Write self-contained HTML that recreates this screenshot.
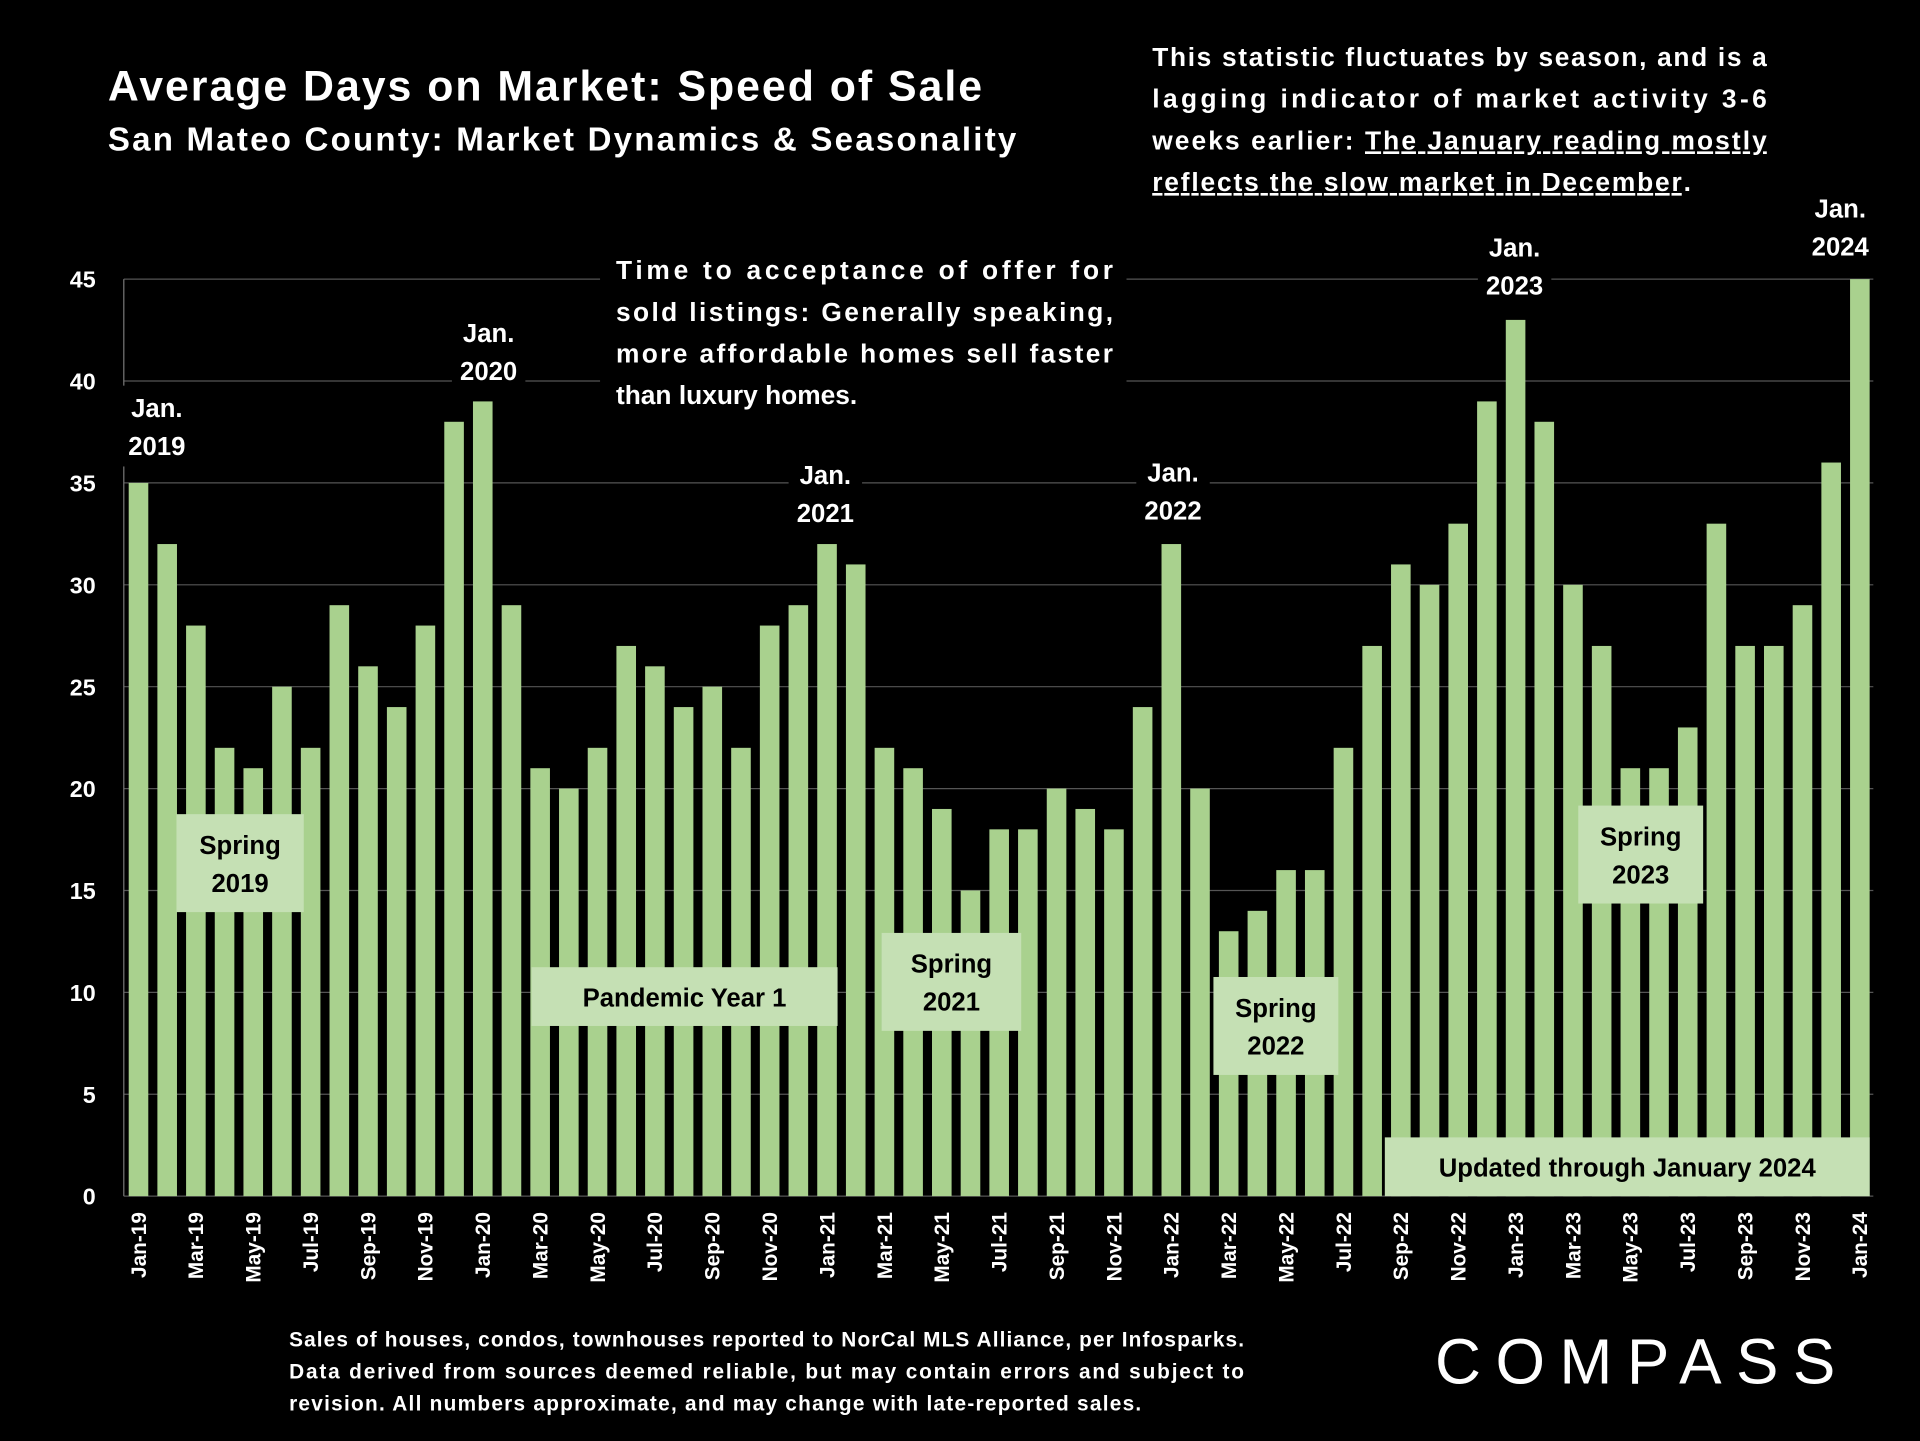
<!DOCTYPE html>
<html><head><meta charset="utf-8"><style>
html,body{margin:0;padding:0;background:#000;}
svg{display:block;font-family:"Liberation Sans",sans-serif;font-weight:bold;}
</style></head><body>
<svg id="chart" width="1920" height="1441" viewBox="0 0 1568 1177" xmlns="http://www.w3.org/2000/svg">
<rect width="1568" height="1177" fill="#000"/>
<g id="grid"></g>
<g id="bars"></g>
<g id="yticks"></g>
<g id="xticks"></g>
<g id="notes"></g>
<text x="88" y="82" fill="#fff" font-size="35" textLength="714" lengthAdjust="spacing">Average Days on Market:  Speed of Sale</text>
<text x="88" y="123" fill="#fff" font-size="27" textLength="742" lengthAdjust="spacing">San Mateo County: Market Dynamics &amp; Seasonality</text>
<g fill="#fff" font-size="21.5">
<text x="941" y="54" textLength="502" lengthAdjust="spacing">This statistic fluctuates by season, and is a</text>
<text x="941" y="88" textLength="502" lengthAdjust="spacing">lagging indicator of market activity 3-6</text>
<text x="941" y="122" textLength="502" lengthAdjust="spacing">weeks earlier: <tspan text-decoration="underline">The January reading mostly</tspan></text>
<text x="941" y="156" textLength="440" lengthAdjust="spacing"><tspan text-decoration="underline">reflects the slow market in December</tspan>.</text>
</g>
<g fill="#fff" font-size="17">
<text x="236" y="1100" textLength="780" lengthAdjust="spacing">Sales of houses, condos, townhouses reported to NorCal MLS Alliance, per Infosparks.</text>
<text x="236" y="1126" textLength="780" lengthAdjust="spacing">Data derived from sources deemed reliable, but may contain errors and subject to</text>
<text x="236" y="1152" textLength="696" lengthAdjust="spacing">revision. All numbers approximate, and may change with late-reported sales.</text>
</g>
<text x="1172" y="1130" fill="#fff" font-size="52" font-weight="normal" letter-spacing="7" textLength="334" lengthAdjust="spacing">COMPASS</text>
</svg>
<script>
const categories=[];
const yrs=['19','20','21','22','23','24'];
const mons=['Jan','Feb','Mar','Apr','May','Jun','Jul','Aug','Sep','Oct','Nov','Dec'];
for(let y=0;y<5;y++)for(const m of mons)categories.push(m+'-'+yrs[y]);
categories.push('Jan-24');
const values=[35,32,28,22,21,25,22,29,26,24,28,38,
39,29,21,20,22,27,26,24,25,22,28,29,
32,31,22,21,19,15,18,18,20,19,18,24,
32,20,13,14,16,16,22,27,31,30,33,39,
43,38,30,27,21,21,23,33,27,27,29,36,45];
const yTicks=[0,5,10,15,20,25,30,35,40,45];
const NS='http://www.w3.org/2000/svg';
const x0=113,x1=1519,yBase=977,yTop=228,yMax=45;
const xs=i=>x0+(x1-x0)*i/(categories.length-1);
const ys=v=>yBase-(yBase-yTop)*v/yMax;
function mk(tag,attrs,parent){const e=document.createElementNS(NS,tag);for(const k in attrs)e.setAttribute(k,attrs[k]);parent.appendChild(e);return e;}
const grid=document.getElementById('grid'),bars=document.getElementById('bars'),yt=document.getElementById('yticks'),xt=document.getElementById('xticks'),notes=document.getElementById('notes');
yTicks.forEach(t=>{
 const l=mk('line',{x1:101,x2:1530,y1:ys(t),y2:ys(t),stroke:'#555','stroke-width':1},grid);
 
 
 const tx=mk('text',{x:78,y:ys(t)+7,'text-anchor':'end',fill:'#fff','font-size':19},yt);
 tx.textContent=t;
 
 
});
mk('line',{x1:101,x2:101,y1:yTop,y2:yBase,stroke:'#777','stroke-width':1},grid);
values.forEach((v,i)=>{
 const r=mk('rect',{x:xs(i)-8,y:ys(v),width:16,height:yBase-ys(v),fill:'#a9d18e'},bars);
 
 
 if(i%2===0){
  const cx=xs(i)+6;
  const t=mk('text',{x:cx,y:990,'text-anchor':'end',fill:'#fff','font-size':17,transform:`rotate(-90 ${cx} 990)`},xt);
  t.textContent=categories[i];
  
  
 }
});
function label(lines,cx,y,w,h,bg,fg,name,fs){
 const g=mk('g',{},notes);
 
 
 mk('rect',{x:cx-w/2,y:y,width:w,height:h,fill:bg},g);
 lines.forEach((s,k)=>{const t=mk('text',{x:cx,y:y+(h-(lines.length-1)*31)/2+8+k*31,'text-anchor':'middle',fill:fg,'font-size':fs||21},g);t.textContent=s;});
}
label(['Jan.','2019'],128,315,58,66,'#000','#fff','label-jan-2019');
label(['Jan.','2020'],399,254,60,66,'#000','#fff','label-jan-2020');
label(['Jan.','2021'],674,370,60,66,'#000','#fff','label-jan-2021');
label(['Jan.','2022'],958,368,60,66,'#000','#fff','label-jan-2022');
label(['Jan.','2023'],1237,184,60,66,'#000','#fff','label-jan-2023');
label(['Jan.','2024'],1503,152,60,66,'#000','#fff','label-jan-2024');
label(['Spring','2019'],196,665,104,80,'#c5e0b4','#000','spring-2019-box');
label(['Pandemic Year 1'],559,790,250,48,'#c5e0b4','#000','pandemic-year-1-box');
label(['Spring','2021'],777,762,114,80,'#c5e0b4','#000','spring-2021-box');
label(['Spring','2022'],1042,798,102,80,'#c5e0b4','#000','spring-2022-box');
label(['Spring','2023'],1340,658,102,80,'#c5e0b4','#000','spring-2023-box');
label(['Updated through January 2024'],1329,929,396,48,'#c5e0b4','#000','updated-through-box');
const g=mk('g',{},notes);


mk('rect',{x:490,y:198,width:430,height:145,fill:'#000'},g);
[['Time to acceptance of offer for',228,true],['sold listings: Generally speaking,',262,true],['more affordable homes sell faster',296,true],['than luxury homes.',330,false]].forEach(([s,y,j])=>{
 const a={x:503,y:y,fill:'#fff','font-size':21.5};
 if(j){a.textLength=406;a.lengthAdjust='spacing';}
 mk('text',a,g).textContent=s;
});
</script>
</body></html>
